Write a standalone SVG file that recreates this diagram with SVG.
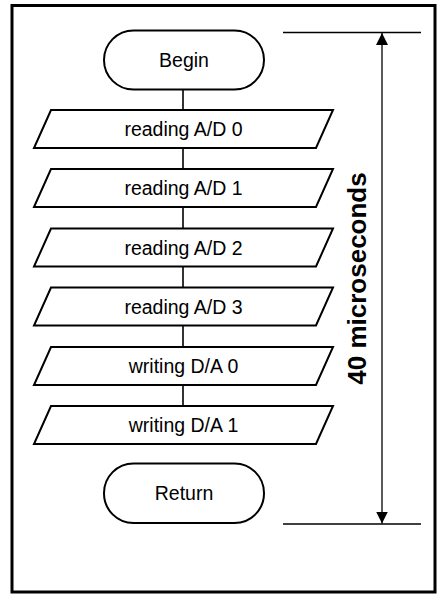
<svg xmlns="http://www.w3.org/2000/svg" width="438" height="595" viewBox="0 0 438 595">
<style>
  .shape { fill: #fff; stroke: #000; stroke-width: 2; }
  .lbl { font-family: "Liberation Sans", Arial, sans-serif; font-size: 19.5px; text-anchor: middle; fill: #000; }
  .conn { stroke: #000; stroke-width: 1.6; fill: none; }
  .dim { stroke: #000; stroke-width: 1.3; fill: none; }
</style>
<defs>
  <marker id="arr" viewBox="0 0 12 12" refX="12" refY="6" markerWidth="12" markerHeight="12" markerUnits="userSpaceOnUse" orient="auto-start-reverse">
    <path d="M0,0 L12,6 L0,12 Z" fill="#000"/>
  </marker>
</defs>
<rect x="12" y="5.5" width="423" height="586.5" fill="#fff" stroke="#000" stroke-width="3"/>
<g id="connectors">
  <line class="conn" x1="183" y1="90" x2="183" y2="110"/>
  <line class="conn" x1="183" y1="148" x2="183" y2="169"/>
  <line class="conn" x1="183" y1="207" x2="183" y2="228.5"/>
  <line class="conn" x1="183" y1="266.5" x2="183" y2="287.5"/>
  <line class="conn" x1="183" y1="325.5" x2="183" y2="347"/>
  <line class="conn" x1="183" y1="385" x2="183" y2="406"/>
</g>
<g id="begin">
  <rect class="shape" x="104" y="30.5" width="160" height="59" rx="29.5"/>
  <text class="lbl" x="184" y="67">Begin</text>
</g>
<g id="ad0">
  <polygon class="shape" points="51,110 333,110 316,148 34,148"/>
  <text class="lbl" x="183.5" y="136">reading A/D 0</text>
</g>
<g id="ad1">
  <polygon class="shape" points="51,169 333,169 316,207 34,207"/>
  <text class="lbl" x="183.5" y="195">reading A/D 1</text>
</g>
<g id="ad2">
  <polygon class="shape" points="51,228.5 333,228.5 316,266.5 34,266.5"/>
  <text class="lbl" x="183.5" y="254.5">reading A/D 2</text>
</g>
<g id="ad3">
  <polygon class="shape" points="51,287.5 333,287.5 316,325.5 34,325.5"/>
  <text class="lbl" x="183.5" y="313.5">reading A/D 3</text>
</g>
<g id="da0">
  <polygon class="shape" points="51,347 333,347 316,385 34,385"/>
  <text class="lbl" x="183.5" y="373">writing D/A 0</text>
</g>
<g id="da1">
  <polygon class="shape" points="51,406 333,406 316,444 34,444"/>
  <text class="lbl" x="183.5" y="432">writing D/A 1</text>
</g>
<g id="return">
  <rect class="shape" x="104" y="463.5" width="160" height="59.5" rx="29.5"/>
  <text class="lbl" x="184" y="500">Return</text>
</g>
<g id="dimension">
  <line class="dim" x1="283" y1="32.5" x2="421" y2="32.5"/>
  <line class="dim" x1="283" y1="524" x2="421" y2="524"/>
  <line class="dim" x1="382" y1="33" x2="382" y2="523.5" marker-start="url(#arr)" marker-end="url(#arr)"/>
  <text x="366" y="278.5" transform="rotate(-90 366 278.5)" style="font-family:'Liberation Sans',Arial,sans-serif;font-size:26px;font-weight:bold;text-anchor:middle;">40 microseconds</text>
</g>
</svg>
